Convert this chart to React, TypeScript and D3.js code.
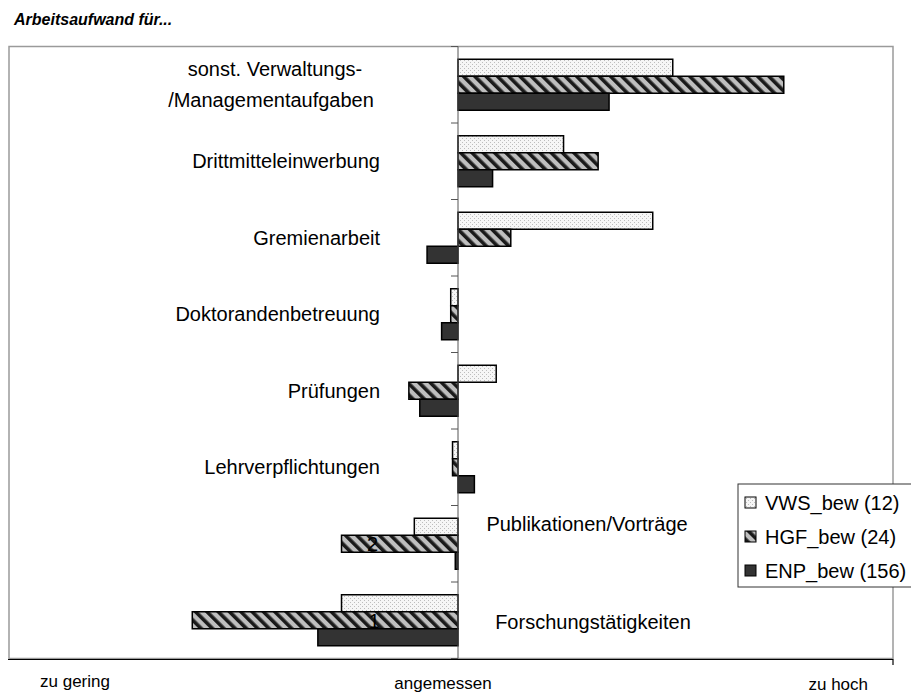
import React from "react";
import * as d3 from "d3";

const categories = [
  "sonst. Verwaltungs-/Managementaufgaben",
  "Drittmitteleinwerbung",
  "Gremienarbeit",
  "Doktorandenbetreuung",
  "Prüfungen",
  "Lehrverpflichtungen",
  "Publikationen/Vorträge",
  "Forschungstätigkeiten",
];
const seriesNames = ["VWS_bew (12)", "HGF_bew (24)", "ENP_bew (156)"];
const vwsValues = [1.18, 0.58, 1.07, -0.04, 0.21, -0.03, -0.24, -0.64];
const hgfValues = [1.79, 0.77, 0.29, -0.04, -0.27, -0.03, -0.64, -1.46];
const enpValues = [0.83, 0.19, -0.17, -0.09, -0.21, 0.09, -0.015, -0.77];
const axisLabels = ["zu gering", "angemessen", "zu hoch"];
const title = "Arbeitsaufwand für...";

const FONT = "'Liberation Sans', Arial, sans-serif";

export default function App() {
  const W = 911, H = 695;
  const frame = { x0: 9, y0: 46.5, x1: 893, y1: 658.5 };
  const x = d3.scaleLinear().domain([-1.5, 2]).range([185, 822]);
  const y = d3.scaleBand<string>().domain(categories).range([frame.y0, frame.y1]).paddingInner(0).paddingOuter(0);
  const y1 = d3.scaleBand<string>().domain(seriesNames).range([0, y.bandwidth()]).paddingInner(0).paddingOuter(0.75);
  const all = [vwsValues, hgfValues, enpValues];
  const fills = ["url(#dots)", "url(#stripes)", "#333333"];
  const x0 = x(0);

  const bars: JSX.Element[] = [];
  categories.forEach((c, ci) => {
    seriesNames.forEach((s, si) => {
      const v = all[si][ci];
      const xa = Math.min(x(0), x(v));
      const w = Math.abs(x(v) - x(0));
      bars.push(
        <rect key={c + s} x={xa} y={(y(c) as number) + (y1(s) as number)} width={w} height={y1.bandwidth()}
          fill={fills[si]} stroke="#000" strokeWidth={1.5} />
      );
    });
  });

  const ticks = d3.range(categories.length + 1).map((i) => frame.y0 + i * y.bandwidth());
  const bc = (i: number) => (y(categories[i]) as number) + y.bandwidth() / 2;
  const fs = 20;

  return (
    <svg width={W} height={H} style={{ position: "absolute", left: 0, top: 0, background: "#fff" }} fontFamily={FONT}>
      <defs>
        <pattern id="dots" width="4" height="4" patternUnits="userSpaceOnUse">
          <rect width="4" height="4" fill="#f6f6f6" />
          <rect x="0" y="0" width="1" height="1" fill="#bdbdbd" />
          <rect x="2" y="2" width="1" height="1" fill="#bdbdbd" />
        </pattern>
        <pattern id="stripes" width="8" height="8" patternUnits="userSpaceOnUse" patternTransform="rotate(-45)">
          <rect width="8" height="8" fill="#bfbfbf" />
          <rect width="3.6" height="8" fill="#1a1a1a" />
        </pattern>
      </defs>
      <text x={14} y={25} fontSize={16} fontWeight="bold" fontStyle="italic">{title}</text>
      <rect x={frame.x0} y={frame.y0} width={frame.x1 - frame.x0} height={frame.y1 - frame.y0} fill="#fff" stroke="#9a9a9a" strokeWidth={1.5} />
      <line x1={8} x2={893} y1={659.5} y2={659.5} stroke="#000" strokeWidth={1.2} />
      <line x1={893} x2={893} y1={659} y2={665} stroke="#000" strokeWidth={1.2} />
      {bars}
      <line x1={x0} x2={x0} y1={frame.y0} y2={frame.y1} stroke="#555" strokeWidth={1} />
      {ticks.map((t, i) => (
        <line key={i} x1={x0 - 7} x2={x0} y1={t} y2={t} stroke="#555" strokeWidth={1} />
      ))}
      {/* category labels */}
      <text x={275} y={bc(0) - 9} fontSize={fs} textAnchor="middle">sonst. Verwaltungs-</text>
      <text x={271} y={bc(0) + 22} fontSize={fs} textAnchor="middle">/Managementaufgaben</text>
      {[1, 2, 3, 4, 5].map((i) => (
        <text key={i} x={380} y={bc(i) + 7} fontSize={fs} textAnchor="end">{categories[i]}</text>
      ))}
      <text x={587} y={bc(6) - 13} fontSize={fs} textAnchor="middle">{categories[6]}</text>
      <text x={593} y={bc(7) + 9} fontSize={fs} textAnchor="middle">{categories[7]}</text>
      <text x={x(-0.46)} y={(y(categories[7]) as number) + (y1(seriesNames[1]) as number) + 16} fontSize={fs} textAnchor="middle">1</text>
      <text x={x(-0.47)} y={(y(categories[6]) as number) + (y1(seriesNames[1]) as number) + 16} fontSize={fs} textAnchor="middle">2</text>
      {/* legend */}
      <rect x={738} y={484} width={190} height={103} fill="#fff" stroke="#333" strokeWidth={1} />
      {seriesNames.map((s, i) => (
        <g key={s}>
          <rect x={745} y={497 + i * 34} width={11} height={11} fill={fills[i]} stroke="#000" strokeWidth={1} />
          <text x={765} y={510 + i * 34} fontSize={fs}>{s}</text>
        </g>
      ))}
      {/* bottom labels */}
      <text x={40} y={687} fontSize={17}>{axisLabels[0]}</text>
      <text x={443} y={689} fontSize={17} textAnchor="middle">{axisLabels[1]}</text>
      <text x={868} y={690} fontSize={17} textAnchor="end">{axisLabels[2]}</text>
    </svg>
  );
}
